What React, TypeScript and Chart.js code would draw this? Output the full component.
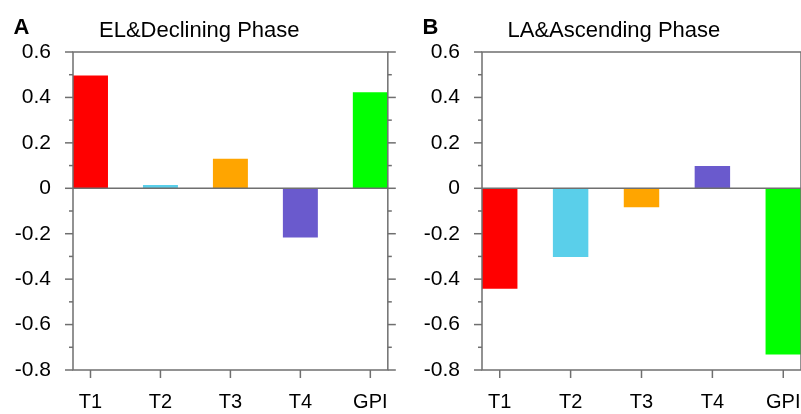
import React, { useEffect, useRef } from "react";
import { Chart, registerables } from "chart.js";

Chart.register(...registerables);

const categories = ["T1", "T2", "T3", "T4", "GPI"];
const barColors = ["#ff0000", "#5acfea", "#ffa500", "#6a5acd", "#00ff00"];
const elDecliningValues = [0.496, 0.015, 0.13, -0.217, 0.423];
const laAscendingValues = [-0.442, -0.303, -0.083, 0.098, -0.732];
const yMajorTicks = [-0.8, -0.6, -0.4, -0.2, 0, 0.2, 0.4, 0.6];
const yMinorTicks = [-0.7, -0.5, -0.3, -0.1, 0.1, 0.3, 0.5];

const AXIS_COLOR = "#6f6f6f";
const FONT = '"Liberation Sans", Arial, sans-serif';

type PanelSpec = {
  letter: string;
  title: string;
  values: number[];
  left: number;
  width: number;
  axisWidth: number;
  padRight: number;
  letterX: number;
  titleX: number;
};

const panels: PanelSpec[] = [
  {
    letter: "A",
    title: "EL&Declining Phase",
    values: elDecliningValues,
    left: 0,
    width: 400,
    axisWidth: 73,
    padRight: 8,
    letterX: 13.5,
    titleX: 99,
  },
  {
    letter: "B",
    title: "LA&Ascending Phase",
    values: laAscendingValues,
    left: 400,
    width: 420,
    axisWidth: 82,
    padRight: 19,
    letterX: 22.5,
    titleX: 107.5,
  },
];

function fmt(v: number): string {
  const r = Math.round(v * 10) / 10;
  return r === 0 ? "0" : String(r);
}

function Panel({ spec }: { spec: PanelSpec }) {
  const ref = useRef<HTMLCanvasElement | null>(null);

  useEffect(() => {
    const canvas = ref.current;
    if (!canvas) return;

    const framePlugin = {
      id: "frame-" + spec.letter,
      afterDatasetsDraw(chart: any) {
        const { ctx, chartArea: a, scales } = chart;
        const x = scales.x;
        const y = scales.y;
        const line = (x1: number, y1: number, x2: number, y2: number) => {
          ctx.beginPath();
          ctx.moveTo(x1, y1);
          ctx.lineTo(x2, y2);
          ctx.stroke();
        };
        ctx.save();
        ctx.strokeStyle = AXIS_COLOR;
        ctx.lineWidth = 1.5;
        const y0 = y.getPixelForValue(0);
        line(a.left, y0, a.right, y0);
        ctx.strokeRect(a.left, a.top, a.right - a.left, a.bottom - a.top);
        yMajorTicks.forEach((v) => {
          const p = y.getPixelForValue(v);
          line(a.left - 8, p, a.left, p);
          line(a.right, p, a.right + 8, p);
        });
        yMinorTicks.forEach((v) => {
          const p = y.getPixelForValue(v);
          line(a.left - 4, p, a.left, p);
          line(a.right, p, a.right + 4, p);
        });
        categories.forEach((_, i) => {
          const p = x.getPixelForValue(i);
          line(p, a.bottom, p, a.bottom + 8);
        });
        ctx.fillStyle = "#000";
        ctx.textBaseline = "alphabetic";
        ctx.textAlign = "left";
        ctx.font = "bold 22px " + FONT;
        ctx.fillText(spec.letter, spec.letterX, 33.5);
        ctx.font = "22px " + FONT;
        ctx.fillText(spec.title, spec.titleX, 37.3);
        ctx.restore();
      },
    };

    const chart = new Chart(canvas, {
      type: "bar",
      data: {
        datasets: [
          {
            data: spec.values.map((v, i) => ({ x: i, y: v })),
            backgroundColor: barColors,
            borderWidth: 0,
            barPercentage: 0.5,
            categoryPercentage: 1,
          },
        ],
      },
      options: {
        responsive: false,
        animation: false,
        events: [],
        layout: { padding: { top: 52, left: 0, right: spec.padRight, bottom: 0 } },
        plugins: {
          legend: { display: false },
          tooltip: { enabled: false },
          title: { display: false },
        },
        scales: {
          x: {
            type: "linear",
            offset: false,
            min: -0.25,
            max: 4.25,
            grid: { display: false, offset: false },
            border: { display: false },
            afterBuildTicks: (scale: any) => {
              scale.ticks = categories.map((_, i) => ({ value: i }));
            },
            afterFit: (scale: any) => {
              scale.height = 44;
            },
            ticks: {
              autoSkip: false,
              maxRotation: 0,
              padding: 12,
              color: "#000",
              font: { family: FONT, size: 20 },
              callback: (v: any) => categories[Math.round(Number(v))] ?? "",
            },
          },
          y: {
            type: "linear",
            min: -0.8,
            max: 0.6,
            grid: { display: false },
            border: { display: false },
            afterBuildTicks: (scale: any) => {
              scale.ticks = yMajorTicks.map((v) => ({ value: v }));
            },
            afterFit: (scale: any) => {
              scale.width = spec.axisWidth;
            },
            ticks: {
              padding: 14,
              color: "#000",
              font: { family: FONT, size: 21 },
              callback: (v: any) => fmt(Number(v)),
            },
          },
        },
      },
      plugins: [framePlugin],
    } as any);

    return () => chart.destroy();
  }, [spec]);

  return (
    <canvas
      ref={ref}
      width={spec.width}
      height={414}
      style={{
        position: "absolute",
        left: spec.left,
        top: 0,
        width: spec.width + "px",
        height: "414px",
        display: "block",
      }}
    />
  );
}

export default function App() {
  return (
    <div
      style={{
        position: "fixed",
        left: 0,
        top: 0,
        width: 801,
        height: 414,
        overflow: "hidden",
        background: "#fff",
      }}
    >
      {panels.map((p) => (
        <Panel key={p.letter} spec={p} />
      ))}
    </div>
  );
}
